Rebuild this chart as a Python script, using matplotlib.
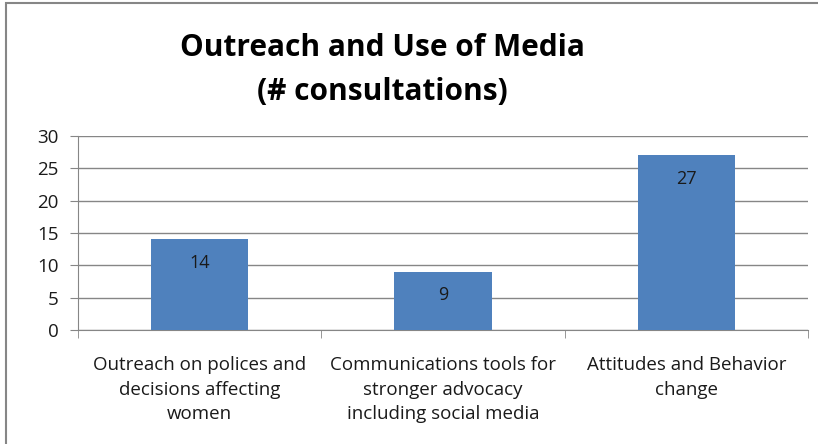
import numpy as np
import matplotlib
matplotlib.use('Agg')
import matplotlib.pyplot as plt
from matplotlib.patches import Rectangle

# data
categories = ['Outreach on polices and\ndecisions affecting\nwomen',
              'Communications tools for\nstronger advocacy\nincluding social media',
              'Attitudes and Behavior\nchange']
consultations = [14, 9, 27]
y_ticks = [0, 5, 10, 15, 20, 25, 30]

plt.rcParams['font.family'] = ['Open Sans', 'DejaVu Sans']

fig = plt.figure(figsize=(8.18, 4.44), dpi=100)
ax = fig.add_axes([78 / 818, 1 - 330 / 444, 730 / 818, 194 / 444])

x = np.arange(len(categories))
bars = ax.bar(x, consultations, width=0.4, color='#4F81BD', zorder=3)

# value labels inside the top of each bar
for xi, v in zip(x, consultations):
    ax.annotate(str(v), xy=(xi, v), xytext=(0, -17), textcoords='offset points',
                ha='center', va='center', fontsize=13, color='#1a1a1a', zorder=4)

ax.set_xlim(-0.5, len(categories) - 0.5)
ax.set_ylim(0, 30)
ax.set_yticks(y_ticks)
ax.yaxis.grid(True, color='#868686', linewidth=1, zorder=0)

# category labels centred, tick marks between categories
ax.set_xticks(x)
ax.set_xticklabels(categories, fontsize=13.5, color='#1a1a1a', linespacing=1.45)
ax.tick_params(axis='x', length=0, pad=19)
ax.set_xticks(np.arange(-0.5, len(categories)), minor=True)
ax.tick_params(axis='x', which='minor', length=6, color='#868686', direction='out')
ax.tick_params(axis='y', length=6, color='#868686', labelsize=13.5, labelcolor='#1a1a1a', pad=8)

for side in ['top', 'right']:
    ax.spines[side].set_visible(False)
for side in ['left', 'bottom']:
    ax.spines[side].set_color('#868686')

fig.text(382 / 818, 1 - 70 / 444, 'Outreach and Use of Media\n(# consultations)',
         ha='center', va='center', fontsize=21.5, fontweight='bold', linespacing=1.65)

# outer chart frame (runs off the right and bottom edges)
fig.patches.append(Rectangle((6 / 818, -0.1), 1.2, 1 - 3 / 444 + 0.1, transform=fig.transFigure,
                             fill=False, edgecolor='#868686', linewidth=1.5, clip_on=False))

fig.savefig('out.png', dpi=100)
